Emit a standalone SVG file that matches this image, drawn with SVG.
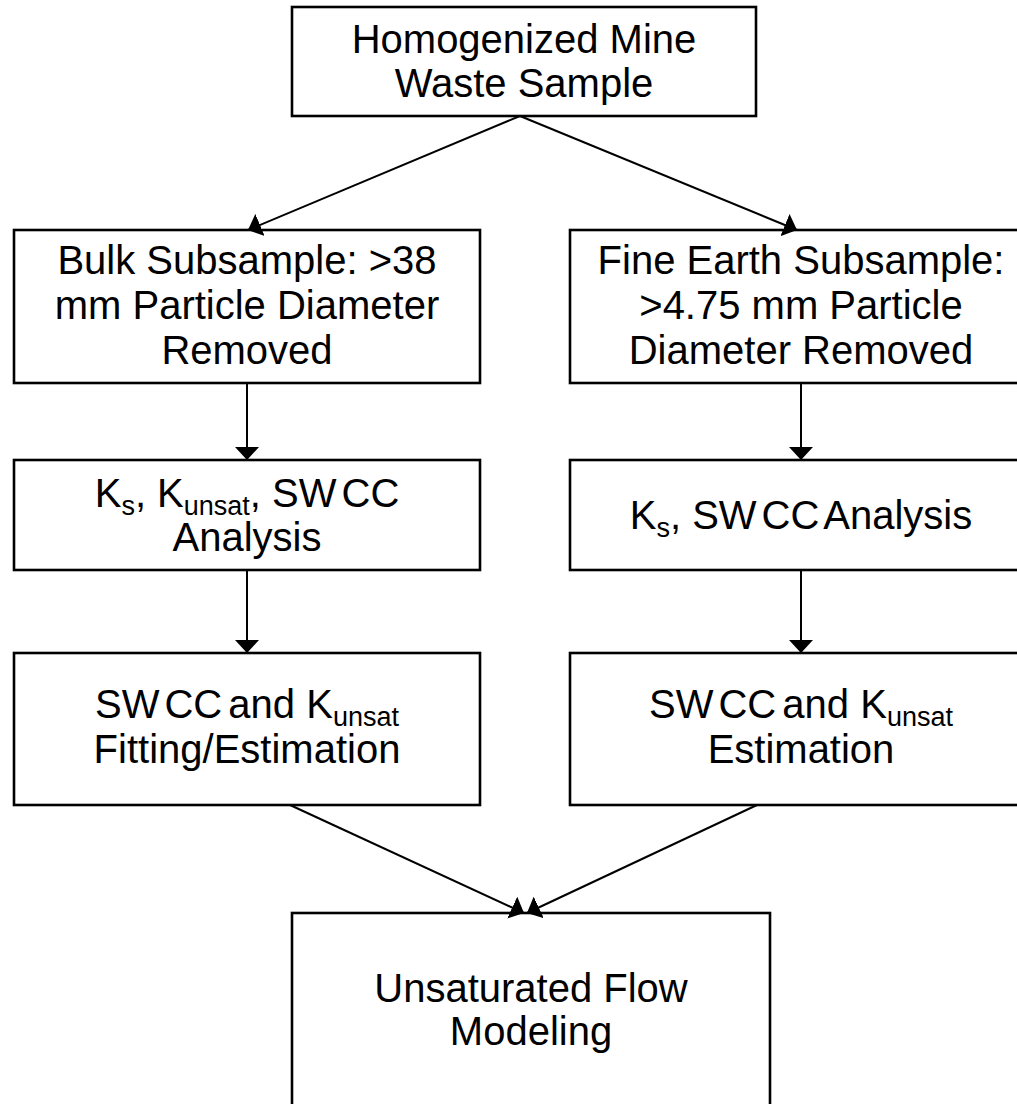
<svg xmlns="http://www.w3.org/2000/svg" width="1017" height="1104" viewBox="0 0 1017 1104">
<style>
.box{fill:#fff;stroke:#000;stroke-width:2.6}
.t{font-family:"Liberation Sans",Arial,sans-serif;font-size:40px;fill:#000;text-anchor:middle}
.sub{font-size:27px}
.c{stroke:#000;stroke-width:2;fill:none;marker-end:url(#ah)}
</style>
<defs>
<marker id="ah" markerUnits="userSpaceOnUse" markerWidth="14" markerHeight="24" refX="13" refY="12" orient="auto" viewBox="0 0 14 24">
<path d="M0,0 L13,12 L0,24 Z" fill="#000"/>
</marker>
</defs>
<rect width="1017" height="1104" fill="#fff"/>
<g id="n-top">
<rect class="box" x="292" y="7" width="464" height="109"/>
<text class="t" x="524" y="53">Homogenized Mine</text>
<text class="t" x="524" y="97">Waste Sample</text>
</g>
<g id="n-bulk">
<rect class="box" x="14" y="230" width="466" height="153"/>
<text class="t" x="247" y="274">Bulk Subsample: &gt;38</text>
<text class="t" x="247" y="319">mm Particle Diameter</text>
<text class="t" x="247" y="364">Removed</text>
</g>
<g id="n-fine">
<rect class="box" x="570" y="230" width="462" height="153"/>
<text class="t" x="801" y="274">Fine Earth Subsample:</text>
<text class="t" x="801" y="319">&gt;4.75 mm Particle</text>
<text class="t" x="801" y="364">Diameter Removed</text>
</g>
<g id="n-ks-left">
<rect class="box" x="14" y="460" width="466" height="110"/>
<text class="t" x="247" y="507">K<tspan class="sub" dy="8">s</tspan><tspan dy="-8">, K</tspan><tspan class="sub" dy="8">unsat</tspan><tspan dy="-8">, SW<tspan dx="5">CC</tspan></tspan></text>
<text class="t" x="247" y="551">Analysis</text>
</g>
<g id="n-ks-right">
<rect class="box" x="570" y="460" width="462" height="110"/>
<text class="t" x="801" y="529">K<tspan class="sub" dy="8">s</tspan><tspan dy="-8">, SW<tspan dx="5">CC</tspan><tspan dx="-5"> Analysis</tspan></tspan></text>
</g>
<g id="n-fit-left">
<rect class="box" x="14" y="653" width="466" height="152"/>
<text class="t" x="247" y="718">SW<tspan dx="5">CC</tspan><tspan dx="-5"> and K</tspan><tspan class="sub" dy="8">unsat</tspan></text>
<text class="t" x="247" y="763">Fitting/Estimation</text>
</g>
<g id="n-fit-right">
<rect class="box" x="570" y="653" width="462" height="152"/>
<text class="t" x="801" y="718">SW<tspan dx="5">CC</tspan><tspan dx="-5"> and K</tspan><tspan class="sub" dy="8">unsat</tspan></text>
<text class="t" x="801" y="763">Estimation</text>
</g>
<g id="n-flow">
<rect class="box" x="292" y="913" width="478" height="200"/>
<text class="t" x="531" y="1002">Unsaturated Flow</text>
<text class="t" x="531" y="1045">Modeling</text>
</g>
<g id="connectors">
<line class="c" x1="520" y1="116" x2="248" y2="230"/>
<line class="c" x1="520" y1="116" x2="797" y2="230"/>
<line class="c" x1="247" y1="383" x2="247" y2="460"/>
<line class="c" x1="801" y1="383" x2="801" y2="460"/>
<line class="c" x1="247" y1="570" x2="247" y2="653"/>
<line class="c" x1="801" y1="570" x2="801" y2="653"/>
<line class="c" x1="290" y1="805" x2="524" y2="913"/>
<line class="c" x1="757" y1="805" x2="527" y2="913"/>
</g>
</svg>
